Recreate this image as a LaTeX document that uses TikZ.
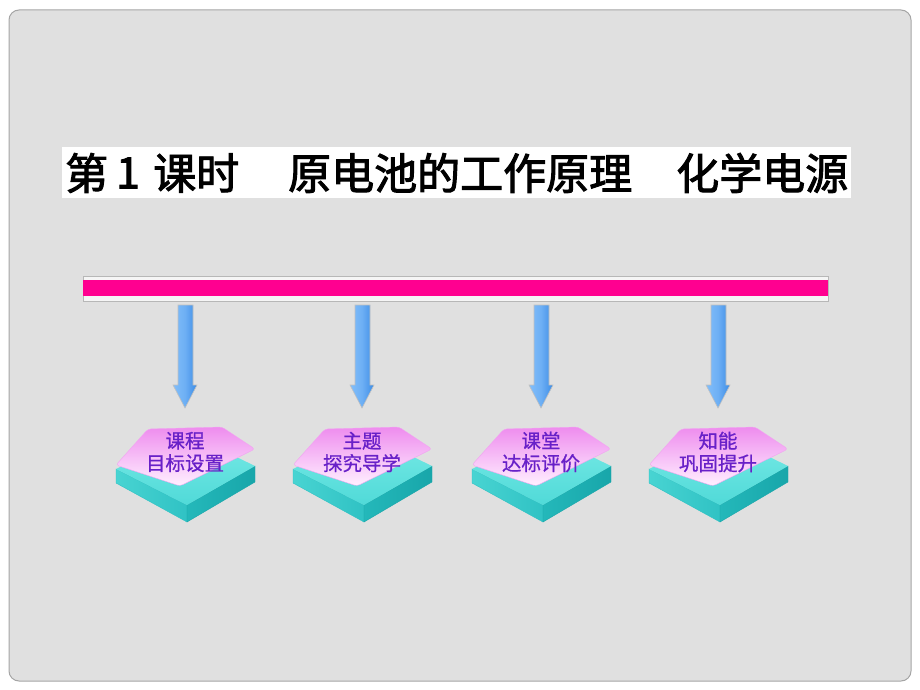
\documentclass[tikz,border=0pt]{standalone}
\usepackage{fontspec}
\newfontfamily\cjk{Noto Sans CJK SC}
\newfontfamily\cjkb[FakeBold=2.2]{Noto Sans CJK SC}
\newfontfamily\cjkm[FakeBold=0.8]{Noto Sans CJK SC}
\definecolor{bgray}{RGB}{224,224,224}
\definecolor{bordergray}{RGB}{165,165,165}
\definecolor{barpink}{RGB}{255,0,144}
\definecolor{arrowL}{RGB}{130,190,250}
\definecolor{arrowR}{RGB}{60,140,230}
\definecolor{pinkTop}{RGB}{238,140,238}
\definecolor{pinkBot}{RGB}{255,240,255}
\definecolor{tealTop}{RGB}{120,234,230}
\definecolor{tealTopB}{RGB}{80,218,216}
\definecolor{tealLeft}{RGB}{72,212,210}
\definecolor{tealLeftB}{RGB}{48,194,196}
\definecolor{tealRight}{RGB}{36,184,186}
\definecolor{tealRightB}{RGB}{24,166,170}
\definecolor{labelcol}{RGB}{104,32,200}
\tikzset{
  titletext/.style={inner sep=0pt, anchor=west, font=\cjkb\fontsize{43}{44}\selectfont},
  boxlabel/.style={inner sep=0pt, text=labelcol, font=\cjkm\fontsize{19.5}{22.5}\selectfont, align=center},
  blockarrow/.style={draw=bordergray!70, line width=0.6pt, left color=arrowL, right color=arrowR, middle color=arrowL!70!arrowR},
}
\begin{document}
\begin{tikzpicture}[x=1pt,y=-1pt]
\useasboundingbox (0,0) rectangle (920,690);
\fill[white] (0,0) rectangle (920,690);
% slide background
\path[draw=bordergray, line width=1pt, fill=bgray, rounded corners=10pt] (9,10) rectangle (911,681);
% title
\fill[white] (62,147) rectangle (851,198);
\node[titletext] (t1) at (65,173) {第};
\node[titletext, anchor=center] (t1n) at (128,173) {1};
\node[titletext] (t1b) at (153,173) {课时};
\node[titletext] (t2) at (288,173) {原电池的工作原理};
\node[titletext] (t3) at (676,173) {化学电源};
% bar
\path[fill=white!96!black, draw=bordergray!80, line width=0.5pt] (83,276) rectangle (828,301);
\node[fill=barpink, inner sep=0pt, minimum width=745, minimum height=16, anchor=north west] (bar) at (83,280) {};
% boxes and arrows
\foreach \cx/\la/\lb [count=\i] in {185/课程/目标设置, 362/主题/探究导学, 541/课堂/达标评价, 718/知能/巩固提升} {
  % arrow
  \coordinate (a\i) at (\cx,305);
  \path[blockarrow] (\cx-7,305) -- (\cx+8,305) -- (\cx+8,385) -- (\cx+12,385) -- (\cx,408) -- (\cx-12,385) -- (\cx-7,385) -- cycle;
  % teal slab
  \path[left color=tealLeft, right color=tealLeftB, draw=tealLeftB, line width=0.4pt]
    (\cx-69,469) -- (\cx+2,505) -- (\cx+2,522) -- (\cx-69,483) -- cycle;
  \path[left color=tealRight, right color=tealRightB, draw=tealRightB, line width=0.4pt]
    (\cx+2,505) -- (\cx+70,466) -- (\cx+70,482) -- (\cx+2,522) -- cycle;
  \path[top color=tealTop, bottom color=tealTopB]
    (\cx-69,469) -- (\cx+4,434) -- (\cx+70,466) -- (\cx+2,505) -- cycle;
  % pink top plate
  \path[rounded corners=3pt, shading angle=20, top color=pinkTop, bottom color=pinkBot, draw=pinkTop!80!white, line width=0.4pt]
    (\cx-69,465) -- (\cx-37,429) -- (\cx+37,427) -- (\cx+70,449) -- (\cx-5,486) -- cycle;
  \node[boxlabel] (b\i) at (\cx,452) {\la\\\lb};
}
\end{tikzpicture}
\end{document}
